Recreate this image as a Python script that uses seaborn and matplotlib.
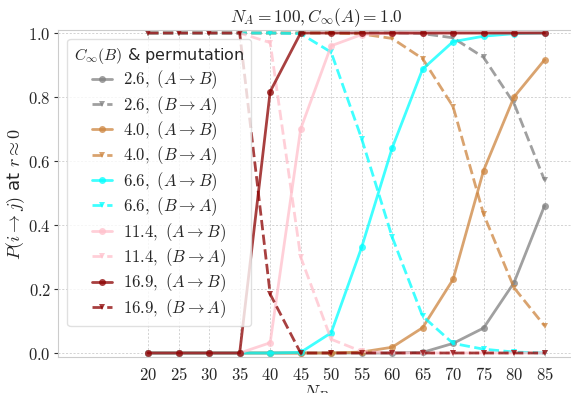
import numpy as np
import pandas as pd
import matplotlib
matplotlib.use('Agg')
import matplotlib.pyplot as plt
import seaborn as sns

# N_B values
n_b = [20, 25, 30, 35, 40, 45, 50, 55, 60, 65, 70, 75, 80, 85]

# C_inf(B) values and colours
c_inf_b = ['2.6', '4.0', '6.6', '11.4', '16.9']
colors = ['grey', 'peru', 'cyan', 'pink', 'darkred']

# P(A -> B) per C_inf(B)
p_ab_26 = [0, 0, 0, 0, 0, 0, 0, 0, 0, 0.002, 0.03, 0.078, 0.22, 0.46]
p_ab_40 = [0, 0, 0, 0, 0, 0, 0, 0.003, 0.018, 0.079, 0.23, 0.57, 0.80, 0.916]
p_ab_66 = [0, 0, 0, 0, 0, 0.002, 0.063, 0.33, 0.64, 0.887, 0.973, 0.99, 0.998, 1.0]
p_ab_114 = [0, 0, 0, 0, 0.032, 0.70, 0.96, 0.995, 1.0, 1.0, 1.0, 1.0, 1.0, 1.0]
p_ab_169 = [0, 0, 0, 0, 0.817, 1.0, 1.0, 1.0, 1.0, 1.0, 1.0, 1.0, 1.0, 1.0]

# P(B -> A) per C_inf(B)
p_ba_26 = [1.0, 1.0, 1.0, 1.0, 1.0, 1.0, 1.0, 1.0, 1.0, 0.998, 0.985, 0.924, 0.78, 0.54]
p_ba_40 = [1.0, 1.0, 1.0, 1.0, 1.0, 1.0, 1.0, 0.997, 0.983, 0.92, 0.77, 0.434, 0.204, 0.085]
p_ba_66 = [1.0, 1.0, 1.0, 1.0, 1.0, 0.998, 0.94, 0.67, 0.363, 0.115, 0.03, 0.012, 0.003, 0.0]
p_ba_114 = [1.0, 1.0, 1.0, 1.0, 0.97, 0.30, 0.043, 0.005, 0.0, 0.0, 0.0, 0.0, 0.0, 0.0]
p_ba_169 = [1.0, 1.0, 1.0, 1.0, 0.184, 0.0, 0.0, 0.0, 0.0, 0.0, 0.0, 0.0, 0.0, 0.0]

p_ab = [p_ab_26, p_ab_40, p_ab_66, p_ab_114, p_ab_169]
p_ba = [p_ba_26, p_ba_40, p_ba_66, p_ba_114, p_ba_169]

xticks = [20, 25, 30, 35, 40, 45, 50, 55, 60, 65, 70, 75, 80, 85]
yticks = [0.0, 0.2, 0.4, 0.6, 0.8, 1.0]

sns.set_style('whitegrid', {'grid.linestyle': (0, (2.5, 2)), 'grid.color': '.8',
                            'axes.edgecolor': '.8'})
plt.rcParams.update({
    'mathtext.fontset': 'cm',
    'font.family': ['DejaVu Sans'],
    'grid.linewidth': 0.6,
})

fig = plt.figure(figsize=(5.71, 3.93), dpi=100)
ax = fig.add_axes([58 / 571, 1 - 357 / 393, (575 - 58) / 571, 327 / 393])

for c, col, ab, ba in zip(c_inf_b, colors, p_ab, p_ba):
    df = pd.DataFrame({'N_B': n_b, 'ab': ab, 'ba': ba})
    sns.lineplot(data=df, x='N_B', y='ab', ax=ax, color=col, alpha=0.75,
                 marker='o', markersize=5, markeredgewidth=0, linewidth=2,
                 label=rf'${c},\ (A \to B)$')
    sns.lineplot(data=df, x='N_B', y='ba', ax=ax, color=col, alpha=0.75,
                 marker='v', markersize=5, markeredgewidth=0, linewidth=2,
                 linestyle='--', label=rf'${c},\ (B \to A)$')

ax.set_xlim(5.2, 90.0)
ax.set_ylim(-0.0125, 1.0094)
ax.set_xticks(xticks)
ax.set_xticklabels([f'${t}$' for t in xticks], fontsize=12)
ax.set_yticks(yticks)
ax.set_yticklabels([f'${t:.1f}$' for t in yticks], fontsize=12)
ax.tick_params(axis='y', left=True, length=3, width=0.8, color='0.2', pad=2)
ax.tick_params(axis='x', pad=3)

ax.set_title(r'$N_A = 100, C_\infty(A) = 1.0$', fontsize=12.5, pad=6)
ax.set_xlabel(r'$N_B$', fontsize=13, labelpad=0)
ax.set_ylabel(r'$P(i \to j)$ at $r \approx 0$', fontsize=13, labelpad=1)

leg = ax.legend(title=r'$C_\infty(B)$ & permutation', loc='upper left',
                fontsize=12, title_fontsize=11.5, frameon=True,
                handlelength=1.2, handletextpad=0.7, labelspacing=0.16,
                borderpad=0.4, borderaxespad=0.55)
leg.get_frame().set_edgecolor('0.85')

fig.savefig('out.png', dpi=100)
